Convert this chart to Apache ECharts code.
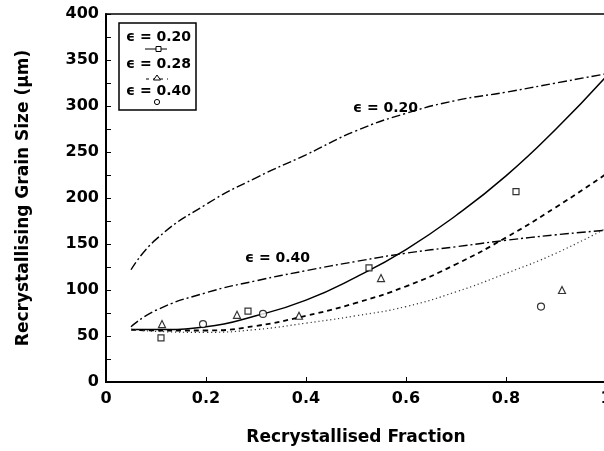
<!DOCTYPE html>
<html>
<head>
<meta charset="utf-8">
<script src="https://cdn.jsdelivr.net/npm/echarts@6/dist/echarts.min.js"></script>
<style>html,body{margin:0;padding:0;background:#fff}#c{width:604px;height:451px}</style>
</head>
<body>
<div id="c"></div>
<script>
// Model curves (x = recrystallised fraction)
const curveX = [0.05, 0.1, 0.2, 0.3, 0.4, 0.5, 0.6, 0.7, 0.8, 0.9, 1.0];
const solidE020 = [57, 57, 60, 72, 89, 114, 144, 181, 224, 275, 332];
const dashedE028 = [57, 56, 56, 61, 72, 86, 104, 128, 157, 190, 226];
const dottedE040 = [57, 55, 54, 57, 64, 72, 82, 98, 118, 140, 167];
const upperDashDotE020 = [122, 155, 193, 222, 247, 273, 292, 306, 315, 325, 335];
const lowerDashDotE040 = [60, 78, 97, 110, 121, 131, 140, 147, 154, 160, 165];

// Measured points
const squaresE020 = [[0.11, 48], [0.284, 77], [0.526, 124], [0.82, 207]];
const trianglesE028 = [[0.112, 63], [0.262, 73], [0.386, 72], [0.55, 113], [0.912, 100]];
const circlesE040 = [[0.194, 63], [0.314, 74], [0.87, 82]];

const xTicks = [0, 0.2, 0.4, 0.6, 0.8, 1];
const yTicks = [0, 50, 100, 150, 200, 250, 300, 350, 400];
const legendLabels = ['\u03F5 = 0.20', '\u03F5 = 0.28', '\u03F5 = 0.40'];
const curveLabels = ['\u03F5 = 0.20', '\u03F5 = 0.40'];

const zip = (xs, ys) => xs.map((x, i) => [x, ys[i]]);
const FONT = 'DejaVu Sans';

const chart = echarts.init(document.getElementById('c'), null, {renderer: 'canvas'});

function lineSeries(ys, type, width, color) {
  return {
    type: 'line', data: zip(curveX, ys), smooth: true, showSymbol: false,
    lineStyle: {color: color || '#000', width: width, type: type}, z: 2, silent: true
  };
}
function scatterSeries(pts, symbol, size) {
  return {
    type: 'scatter', data: pts, symbol: symbol, symbolSize: size,
    itemStyle: {color: '#fff', borderColor: '#000', borderWidth: 1.2}, z: 3, silent: true
  };
}

chart.setOption({
  animation: false,
  backgroundColor: '#fff',
  grid: {left: 106, right: -2, top: 14, bottom: 69, show: true, borderColor: '#000', borderWidth: 1.5,
         backgroundColor: 'transparent', containLabel: false, outerBoundsMode: 'none'},
  xAxis: {
    type: 'value', min: 0, max: 1, interval: 0.2,
    axisLine: {show: true, lineStyle: {color: '#000', width: 2}},
    axisTick: {show: true, inside: true, length: 5, lineStyle: {color: '#000', width: 1}},
    splitLine: {show: false},
    axisLabel: {
      color: '#000', fontFamily: FONT, fontWeight: 'bold', fontSize: 16, margin: 9, hideOverlap: false,
      formatter: v => { const t = xTicks.find(k => Math.abs(k - v) < 1e-9); return t === undefined ? '' : String(t); }
    },
    name: 'Recrystallised Fraction', nameLocation: 'middle', nameGap: 47,
    nameTextStyle: {color: '#000', fontFamily: FONT, fontWeight: 'bold', fontSize: 17}
  },
  yAxis: {
    type: 'value', min: 0, max: 400, interval: 50,
    axisLine: {show: true, lineStyle: {color: '#000', width: 2}},
    axisTick: {show: true, inside: true, length: 5, lineStyle: {color: '#000', width: 1}},
    minorTick: {show: true, splitNumber: 2, length: 5, lineStyle: {color: '#000', width: 1}},
    splitLine: {show: false},
    axisLabel: {
      color: '#000', fontFamily: FONT, fontWeight: 'bold', fontSize: 16, margin: 7,
      formatter: v => yTicks.indexOf(v) >= 0 ? String(v) : ''
    },
    name: 'Recrystallising Grain Size (\u03BCm)', nameLocation: 'middle', nameGap: 74,
    nameTextStyle: {color: '#000', fontFamily: FONT, fontWeight: 'bold', fontSize: 17}
  },
  series: [
    lineSeries(upperDashDotE020, [9, 3, 2, 3], 1.4),
    lineSeries(lowerDashDotE040, [9, 3, 2, 3], 1.4),
    lineSeries(solidE020, 'solid', 1.5),
    lineSeries(dashedE028, [5, 4], 1.8),
    lineSeries(dottedE040, [1.2, 2.8], 1.2, '#333'),
    scatterSeries(squaresE020, 'rect', 6),
    scatterSeries(trianglesE028, 'triangle', 7),
    scatterSeries(circlesE040, 'circle', 7)
  ],
  graphic: [
    {type: 'rect', shape: {x: 119, y: 23, width: 77, height: 87}, style: {fill: '#fff', stroke: '#000', lineWidth: 1.5}, z: 10},
    {type: 'text', x: 126, y: 37, style: {text: legendLabels[0], font: 'bold 14px "DejaVu Sans"', fill: '#000', verticalAlign: 'middle'}, z: 11},
    {type: 'text', x: 126, y: 64, style: {text: legendLabels[1], font: 'bold 14px "DejaVu Sans"', fill: '#000', verticalAlign: 'middle'}, z: 11},
    {type: 'text', x: 126, y: 91, style: {text: legendLabels[2], font: 'bold 14px "DejaVu Sans"', fill: '#000', verticalAlign: 'middle'}, z: 11},
    {type: 'line', shape: {x1: 145, y1: 49, x2: 167, y2: 49}, style: {stroke: '#000', lineWidth: 1}, z: 11},
    {type: 'rect', shape: {x: 156, y: 46.5, width: 5, height: 5}, style: {fill: '#fff', stroke: '#000', lineWidth: 1}, z: 12},
    {type: 'line', shape: {x1: 146, y1: 79, x2: 168, y2: 79}, style: {stroke: '#000', lineWidth: 1, lineDash: [3, 4]}, z: 11},
    {type: 'polygon', shape: {points: [[157, 75], [153.5, 80], [160.5, 80]]}, style: {fill: '#fff', stroke: '#000', lineWidth: 1}, z: 12},
    {type: 'circle', shape: {cx: 157, cy: 102, r: 2.6}, style: {fill: '#fff', stroke: '#000', lineWidth: 1}, z: 12},
    {type: 'text', x: 353, y: 108, style: {text: curveLabels[0], font: 'bold 14px "DejaVu Sans"', fill: '#000', verticalAlign: 'middle'}, z: 11},
    {type: 'text', x: 245, y: 258, style: {text: curveLabels[1], font: 'bold 14px "DejaVu Sans"', fill: '#000', verticalAlign: 'middle'}, z: 11}
  ]
});
</script>
</body>
</html>
